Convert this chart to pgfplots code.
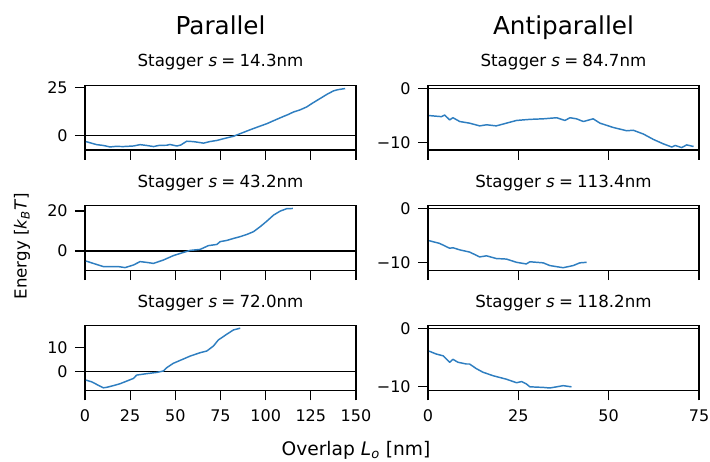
\documentclass[border=0pt]{standalone}
\usepackage{fontspec}
\setmainfont{DejaVu Sans}
\usepackage{pgfplots}
\pgfplotsset{compat=1.18}
\definecolor{mblue}{HTML}{2E7EC0}
\newcommand{\tfont}{\fontsize{12}{14}\selectfont}
\newcommand{\sfont}{\fontsize{12.5}{14}\selectfont}
\pgfplotsset{
  panel/.style={scale only axis, width=203.25pt, height=48.4pt,
    axis line style={line width=0.9pt, black},
    tick style={line width=0.9pt, black},
    tick align=outside, major tick length=7.5pt,
    xtick pos=bottom, ytick pos=left,
    ticklabel style={font=\tfont},
    xticklabel style={yshift=-3.5pt},
    yticklabel style={xshift=-2pt},
    anchor=south west},
  lp/.style={panel, xmin=0, xmax=150, xtick={0,25,50,75,100,125,150}},
  rp/.style={panel, xmin=0, xmax=75, xtick={0,25,50,75}},
  curve/.style={mblue, line width=1.1pt, line join=round},
  zline/.style={black, line width=1pt, forget plot},
}
\begin{document}
\begin{tikzpicture}
\useasboundingbox (0,0) rectangle (532.5pt,345.75pt);
% ---- Row 1 left
\begin{axis}[lp, at={(63.75pt,233.25pt)}, ymin=-7.6, ymax=26.2, ytick={0,25}, yticklabels={0,25}, xticklabels={}]
\addplot[zline] coordinates {(0,0) (150,0)};
\addplot[curve] coordinates {(0.5,-3.2) (3.5,-4.0) (6.5,-4.8) (10,-5.2) (13.9,-6.0) (17,-5.7) (21.2,-5.8) (26.8,-5.5) (30.5,-4.8) (34,-5.2) (37.9,-5.8) (41,-5.2) (45.3,-5.1) (47,-4.7) (50.8,-5.5) (53,-5.0) (56.3,-3.0) (60,-3.2) (65.6,-4.0) (69,-3.2) (73,-2.6) (77,-1.6) (82.2,-0.4) (86,1.0) (91.4,3.0) (96,4.6) (100.7,6.2) (105,8.0) (109.9,10.0) (112,10.8) (115.4,12.3) (119,13.4) (122.8,15.0) (126,17.0) (130.2,19.4) (134,21.6) (137.6,23.4) (140,24.0) (144,24.6)};
\end{axis}
% ---- Row 1 right
\begin{axis}[rp, at={(321pt,233.25pt)}, ymin=-11.34, ymax=0.54, ytick={-10,0}, yticklabels={−10,0}, xticklabels={}]
\addplot[zline] coordinates {(0,0) (75,0)};
\addplot[curve] coordinates {(0.3,-5.0) (3.7,-5.2) (4.6,-4.9) (6.0,-5.8) (6.9,-5.4) (8.8,-6.1) (11.5,-6.4) (14.3,-6.9) (16.2,-6.7) (18.9,-6.9) (21.7,-6.4) (24.5,-5.9) (28.2,-5.7) (31.9,-5.6) (35.6,-5.4) (37.9,-5.9) (39.3,-5.4) (41.1,-5.6) (43.0,-6.1) (45.7,-5.6) (47.6,-6.4) (51.3,-7.2) (55.0,-7.8) (56.8,-7.7) (59.6,-8.4) (62.4,-9.4) (65.1,-10.2) (67.5,-10.8) (68.4,-10.5) (70.2,-10.9) (71.6,-10.4) (73.5,-10.7)};
\end{axis}
% ---- Row 2 left
\begin{axis}[lp, at={(63.75pt,143.1pt)}, ymin=-9.6, ymax=22.7, ytick={0,20}, yticklabels={0,20}, xticklabels={}]
\addplot[zline] coordinates {(0,0) (150,0)};
\addplot[curve] coordinates {(0.5,-5.0) (4.6,-6.2) (10.2,-7.8) (15.7,-7.8) (18.5,-7.8) (22.2,-8.3) (26.8,-7.0) (30.5,-5.3) (34.2,-5.7) (37.9,-6.2) (43.4,-4.5) (48.9,-2.3) (54.5,-0.7) (58.2,0.3) (63.7,0.8) (68.3,2.7) (73.0,3.3) (74.8,4.7) (78.5,5.3) (82.2,6.3) (85.9,7.2) (89.6,8.3) (93.3,9.7) (97.0,12.2) (100.7,15.0) (104.4,18.0) (108.1,20.0) (111.7,21.2) (115.1,21.3)};
\end{axis}
% ---- Row 2 right
\begin{axis}[rp, at={(321pt,143.1pt)}, ymin=-11.46, ymax=0.48, ytick={-10,0}, yticklabels={−10,0}, xticklabels={}]
\addplot[zline] coordinates {(0,0) (75,0)};
\addplot[curve] coordinates {(0.3,-6.0) (3.2,-6.5) (6.0,-7.4) (6.9,-7.3) (8.8,-7.7) (11.5,-8.1) (14.3,-9.0) (16.2,-8.8) (18.9,-9.3) (21.7,-9.4) (24.5,-10.0) (27.2,-10.3) (28.2,-9.9) (31.9,-10.1) (33.7,-10.6) (37.4,-11.0) (40.2,-10.6) (42.0,-10.1) (43.9,-10.0)};
\end{axis}
% ---- Row 3 left
\begin{axis}[lp, at={(63.75pt,53.0pt)}, ymin=-7.75, ymax=19.1, ytick={0,10}, yticklabels={0,10}, xticklabels={0,25,50,75,100,125,150}]
\addplot[zline] coordinates {(0,0) (150,0)};
\addplot[curve] coordinates {(0.5,-3.5) (3.7,-4.2) (6.5,-5.3) (10.2,-6.7) (12.0,-6.5) (15.7,-5.8) (19.4,-5.0) (23.1,-3.9) (26.8,-2.8) (28.6,-1.4) (34.2,-0.8) (39.7,-0.3) (43.4,0.3) (45.3,1.7) (48.9,3.5) (54.5,5.3) (58.2,6.5) (63.7,7.9) (67.4,8.6) (71.1,10.7) (73.8,13.2) (78.5,15.6) (82.2,17.4) (85.9,18.1)};
\end{axis}
% ---- Row 3 right
\begin{axis}[rp, at={(321pt,53.0pt)}, ymin=-10.6, ymax=0.43, ytick={-10,0}, yticklabels={−10,0}, xticklabels={0,25,50,75}]
\addplot[zline] coordinates {(0,0) (75,0)};
\addplot[curve] coordinates {(0.3,-3.9) (2.3,-4.4) (4.2,-4.7) (6.0,-5.8) (6.9,-5.3) (8.3,-5.8) (10.6,-6.1) (11.5,-6.1) (13.4,-6.9) (15.2,-7.5) (18.0,-8.1) (21.7,-8.7) (24.5,-9.3) (25.9,-9.1) (27.2,-9.5) (28.2,-10.0) (31.9,-10.1) (33.7,-10.2) (35.6,-10.0) (37.4,-9.8) (39.7,-10.0)};
\end{axis}
% ---- titles
\node[anchor=base, font=\fontsize{18.5}{20}\selectfont] at (165.4pt,319.5pt) {Parallel};
\node[anchor=base, font=\fontsize{18.5}{20}\selectfont] at (422.6pt,319.5pt) {Antiparallel};
\node[anchor=base, font=\sfont] at (165.4pt,295.5pt) {Stagger \textit{s}\hspace{0.25em}=\hspace{0.25em}14.3nm};
\node[anchor=base, font=\sfont] at (422.6pt,295.5pt) {Stagger \textit{s}\hspace{0.25em}=\hspace{0.25em}84.7nm};
\node[anchor=base, font=\sfont] at (165.4pt,205.2pt) {Stagger \textit{s}\hspace{0.25em}=\hspace{0.25em}43.2nm};
\node[anchor=base, font=\sfont] at (422.6pt,205.2pt) {Stagger \textit{s}\hspace{0.25em}=\hspace{0.25em}113.4nm};
\node[anchor=base, font=\sfont] at (165.4pt,114.9pt) {Stagger \textit{s}\hspace{0.25em}=\hspace{0.25em}72.0nm};
\node[anchor=base, font=\sfont] at (422.6pt,114.9pt) {Stagger \textit{s}\hspace{0.25em}=\hspace{0.25em}118.2nm};
\node[rotate=90, anchor=center, font=\fontsize{12.5}{14}\selectfont] at (16.5pt,161.25pt) {Energy [\textit{k}\textsubscript{\textit{B}}\textit{T}]};
\node[anchor=base, font=\fontsize{14}{16}\selectfont] at (267pt,4pt) {Overlap \textit{L}\textsubscript{\textit{o}} [nm]};
\end{tikzpicture}
\end{document}
